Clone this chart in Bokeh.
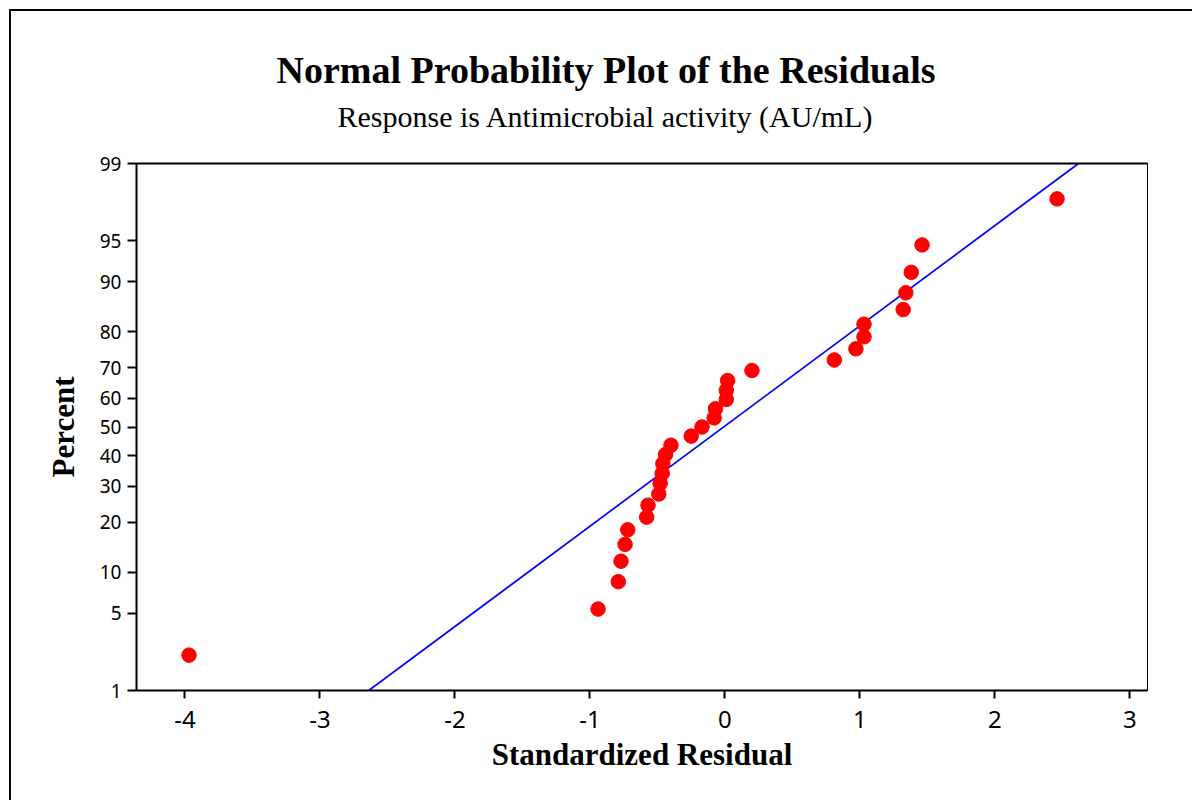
from statistics import NormalDist

from bokeh.plotting import figure
from bokeh.models import (Range1d, FixedTicker, LinearAxis, Title,
                          ColumnDataSource, CustomJSTickFormatter)
from bokeh.embed import file_html
from bokeh.resources import INLINE

# ---- data ----
residuals = [-3.97, -0.94, -0.79, -0.77, -0.74, -0.72, -0.58, -0.57, -0.49, -0.48,
             -0.465, -0.46, -0.44, -0.40, -0.25, -0.17, -0.08, -0.07, 0.01, 0.01,
             0.02, 0.20, 0.81, 0.97, 1.03, 1.03, 1.32, 1.34, 1.38, 1.46, 2.46]
percents = [2.2, 5.4, 8.6, 11.8, 15.0, 18.2, 21.3, 24.5, 27.7, 30.9, 34.1, 37.3,
            40.4, 43.6, 46.8, 50.0, 53.2, 56.4, 59.6, 62.7, 65.9, 69.1, 72.3, 75.5,
            78.7, 81.8, 85.0, 88.2, 91.4, 94.6, 97.8]
y_ticks = [1, 5, 10, 20, 30, 40, 50, 60, 70, 80, 90, 95, 99]
x_ticks = [-4, -3, -2, -1, 0, 1, 2, 3]
fit_mean = -0.01
fit_sd = 1.13
line_percents = [1, 99]

title_text = "Normal Probability Plot of the Residuals"
subtitle_text = "Response is Antimicrobial activity (AU/mL)"
x_label = "Standardized Residual"
y_label = "Percent"

nd = NormalDist()


def z(pct):
    return nd.inv_cdf(pct / 100.0)


pts = ColumnDataSource(dict(x=residuals, y=[z(v) for v in percents]))
line_z = [z(v) for v in line_percents]
line_x = [fit_mean + fit_sd * v for v in line_z]
fit = ColumnDataSource(dict(x=line_x, y=line_z))

W, H = 1192, 800
BL, BT, BR, BB = 136, 163, 45, 110
p = figure(width=W, height=H, output_backend="svg", toolbar_location=None,
           title=None,
           x_range=Range1d(-4.359, 3.130), y_range=Range1d(z(1), z(99)),
           min_border_left=BL, min_border_right=BR, min_border_top=BT,
           min_border_bottom=BB, background_fill_color="white",
           border_fill_color="white", border_fill_alpha=0)
p.grid.visible = False
p.outline_line_color = "black"
p.outline_line_width = 1
# outer frame line of the picture (left and top edges only)
p.styles = {"box-shadow": "inset 9px 9px 0 0 white, inset 11px 11px 0 0 black",
            "background-color": "white"}

p.line("x", "y", source=fit, line_color="#0000ff", line_width=1.7)
p.scatter("x", "y", source=pts, size=14.5, fill_color="#ff0000",
          line_color="#ff0000")

# x axis
xa = p.xaxis[0]
xa.ticker = FixedTicker(ticks=x_ticks)
xa.formatter = CustomJSTickFormatter(code="return String(tick);")
xa.axis_line_width = 2
xa.major_tick_line_width = 2
xa.major_tick_out = 8
xa.major_tick_in = 0
xa.minor_tick_out = 0
xa.minor_tick_in = 0
xa.major_label_text_font = "Noto Sans"
xa.major_label_text_font_size = "24px"
xa.major_label_text_color = "black"
xa.major_label_standoff = 12
xa.axis_label = x_label
xa.axis_label_text_font = "Liberation Serif"
xa.axis_label_text_font_style = "bold"
xa.axis_label_text_font_size = "31px"
xa.axis_label_text_color = "black"
xa.axis_label_standoff = 6

# y axis (normal probability scale)
zs = [z(t) for t in y_ticks]
labs = [str(t) for t in y_ticks]
ya = p.yaxis[0]
ya.ticker = FixedTicker(ticks=zs)
ya.formatter = CustomJSTickFormatter(args=dict(zs=zs, labs=labs), code="""
for (let i = 0; i < zs.length; i++) {
  if (Math.abs(zs[i] - tick) < 1e-6) { return labs[i]; }
}
return '';
""")
ya.axis_line_width = 2
ya.major_tick_line_width = 2
ya.major_tick_out = 9
ya.major_tick_in = 0
ya.minor_tick_out = 0
ya.minor_tick_in = 0
ya.major_label_text_font = "Noto Sans"
ya.major_label_text_font_size = "19px"
ya.major_label_text_color = "black"
ya.major_label_standoff = 6
ya.axis_label = y_label
ya.axis_label_text_font = "Liberation Serif"
ya.axis_label_text_font_style = "bold"
ya.axis_label_text_font_size = "31px"
ya.axis_label_text_color = "black"
ya.axis_label_standoff = 16

# top frame line
top = LinearAxis(ticker=FixedTicker(ticks=[]), axis_line_width=2,
                 major_tick_out=0, major_tick_in=0, minor_tick_out=0,
                 minor_tick_in=0, major_label_text_font_size="0px",
                 major_label_standoff=0)
p.add_layout(top, "above")

# titles
sub = Title(text=subtitle_text, align="left", offset=201, standoff=62,
            text_font="Liberation Serif", text_font_style="normal",
            text_font_size="30px", text_color="black")
main = Title(text=title_text, align="left", offset=140, standoff=-48,
             text_font="Liberation Serif", text_font_style="bold",
             text_font_size="38px", text_color="black")
p.add_layout(sub, "above")
p.add_layout(main, "above")

open("out.html", "w").write(file_html(p, INLINE))
